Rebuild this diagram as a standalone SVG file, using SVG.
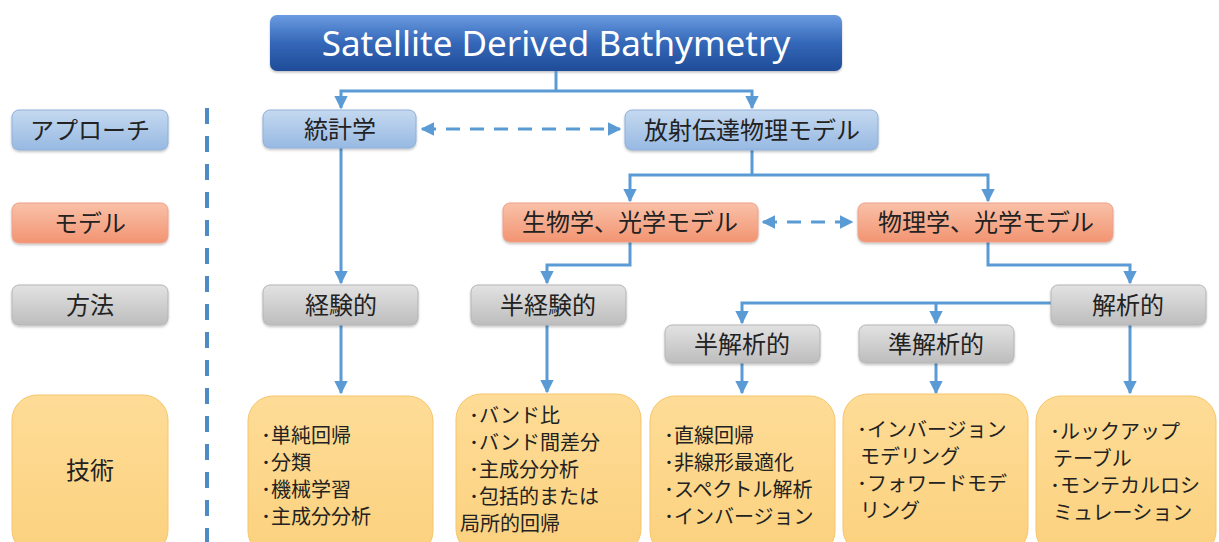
<svg xmlns="http://www.w3.org/2000/svg" width="1219" height="542" viewBox="0 0 1219 542">
<defs>
<linearGradient id="gTitle" x1="0" y1="0" x2="0" y2="1"><stop offset="0" stop-color="#6a9be0"/><stop offset="0.5" stop-color="#3467b8"/><stop offset="1" stop-color="#1f4c98"/></linearGradient>
<linearGradient id="gBlue" x1="0" y1="0" x2="0" y2="1"><stop offset="0" stop-color="#c5d9f0"/><stop offset="1" stop-color="#97b9e2"/></linearGradient>
<linearGradient id="gRed" x1="0" y1="0" x2="0" y2="1"><stop offset="0" stop-color="#f9c1a8"/><stop offset="1" stop-color="#f29472"/></linearGradient>
<linearGradient id="gGray" x1="0" y1="0" x2="0" y2="1"><stop offset="0" stop-color="#e2e2e2"/><stop offset="1" stop-color="#bdbdbd"/></linearGradient>
<linearGradient id="gYel" x1="0" y1="0" x2="0" y2="1"><stop offset="0" stop-color="#fedc97"/><stop offset="1" stop-color="#fbd17e"/></linearGradient>
<marker id="ah" viewBox="0 0 10 10" refX="9" refY="5" markerWidth="4.5" markerHeight="4.5" orient="auto-start-reverse" markerUnits="strokeWidth"><path d="M0,0 L10,5 L0,10 z" fill="#5b9bd5"/></marker>
<filter id="sh" x="-10%" y="-10%" width="120%" height="130%"><feDropShadow dx="0" dy="1.5" stdDeviation="1.2" flood-color="#000" flood-opacity="0.25"/></filter>
</defs>
<style>
.t{font-family:"Noto Sans CJK JP","Noto Sans",sans-serif;fill:#222;}
.lab{font-size:24px;text-anchor:middle;}
.tech{font-size:20px;}
.title{font-family:"Noto Sans","Open Sans",sans-serif;font-size:35px;fill:#fff;text-anchor:middle;}
.blue{fill:url(#gBlue);stroke:#8eb0da;stroke-width:1;filter:url(#sh);}
.red{fill:url(#gRed);stroke:#eea088;stroke-width:1;filter:url(#sh);}
.gray{fill:url(#gGray);stroke:#b5b5b5;stroke-width:1;filter:url(#sh);}
.yel{fill:url(#gYel);stroke:#f6c56a;stroke-width:1;}
.c{fill:none;stroke:#5b9bd5;stroke-width:3;}
.ca{fill:none;stroke:#5b9bd5;stroke-width:3;marker-end:url(#ah);}
.cd{fill:none;stroke:#5b9bd5;stroke-width:3;stroke-dasharray:14 10;marker-start:url(#ah);marker-end:url(#ah);}
</style>

<g id="title"><rect x="270" y="15" width="572" height="56" rx="7" fill="url(#gTitle)" filter="url(#sh)"/><text class="title" x="556" y="56">Satellite Derived Bathymetry</text></g>

<g id="legend-approach"><rect class="blue" x="12" y="110" width="156" height="40" rx="7"/><text class="t lab" x="90" y="139">アプローチ</text></g>
<g id="legend-model"><rect class="red" x="12" y="203" width="156" height="40" rx="7"/><text class="t lab" x="90" y="232">モデル</text></g>
<g id="legend-method"><rect class="gray" x="12" y="285" width="156" height="40" rx="7"/><text class="t lab" x="90" y="314">方法</text></g>
<g id="legend-tech"><rect class="yel" x="12" y="395" width="156" height="160" rx="25"/><text class="t lab" x="90" y="479">技術</text></g>

<g id="connectors">
<line x1="207" y1="108" x2="207" y2="542" stroke="#4f8ac4" stroke-width="4" stroke-dasharray="16 12"/>
<path class="c" d="M556,71 V91"/>
<path class="ca" d="M556,91 H341 V108"/>
<path class="ca" d="M556,91 H752 V108"/>
<path class="cd" d="M422,129 H620"/>
<path class="c" d="M752,150 V175"/>
<path class="ca" d="M752,175 H630 V201"/>
<path class="ca" d="M752,175 H988 V201"/>
<path class="cd" d="M763,222 H852"/>
<path class="ca" d="M341,147 V283"/>
<path class="ca" d="M630,242 V265 H547 V283"/>
<path class="ca" d="M988,242 V265 H1130 V283"/>
<path class="ca" d="M1051,303 H742 V323"/>
<path class="ca" d="M936,303 V323"/>
<path class="ca" d="M341,325 V393"/>
<path class="ca" d="M547,325 V392"/>
<path class="ca" d="M742,363 V393"/>
<path class="ca" d="M936,363 V393"/>
<path class="ca" d="M1130,325 V393"/>
</g>

<g id="n-stat"><rect class="blue" x="263" y="110" width="153" height="38" rx="7"/><text class="t lab" x="340" y="138">統計学</text></g>
<g id="n-rt"><rect class="blue" x="625" y="110" width="253" height="40" rx="7"/><text class="t lab" x="752" y="139">放射伝達物理モデル</text></g>
<g id="n-bio"><rect class="red" x="503" y="203" width="255" height="39" rx="7"/><text class="t lab" x="630" y="231">生物学、光学モデル</text></g>
<g id="n-phys"><rect class="red" x="858" y="203" width="255" height="39" rx="7"/><text class="t lab" x="986" y="231">物理学、光学モデル</text></g>
<g id="n-emp"><rect class="gray" x="263" y="285" width="155" height="40" rx="7"/><text class="t lab" x="341" y="314">経験的</text></g>
<g id="n-semiemp"><rect class="gray" x="471" y="285" width="155" height="40" rx="7"/><text class="t lab" x="548" y="314">半経験的</text></g>
<g id="n-anal"><rect class="gray" x="1051" y="285" width="155" height="40" rx="7"/><text class="t lab" x="1128" y="314">解析的</text></g>
<g id="n-semianal"><rect class="gray" x="665" y="325" width="155" height="38" rx="7"/><text class="t lab" x="742" y="353">半解析的</text></g>
<g id="n-quasi"><rect class="gray" x="859" y="325" width="155" height="38" rx="7"/><text class="t lab" x="936" y="353">準解析的</text></g>

<g id="t-emp"><rect class="yel" x="248" y="396" width="185" height="160" rx="25"/>
<text class="t tech"><tspan x="261" y="443">･単純回帰</tspan><tspan x="261" y="470">･分類</tspan><tspan x="261" y="497">･機械学習</tspan><tspan x="261" y="524">･主成分分析</tspan></text></g>
<g id="t-semiemp"><rect class="yel" x="456" y="394" width="185" height="160" rx="25"/>
<text class="t tech"><tspan x="469" y="423">･バンド比</tspan><tspan x="469" y="450">･バンド間差分</tspan><tspan x="469" y="477">･主成分分析</tspan><tspan x="469" y="504">･包括的または</tspan><tspan x="460" y="531">局所的回帰</tspan></text></g>
<g id="t-semianal"><rect class="yel" x="650" y="396" width="185" height="160" rx="25"/>
<text class="t tech"><tspan x="664" y="443">･直線回帰</tspan><tspan x="664" y="470">･非線形最適化</tspan><tspan x="664" y="497">･スペクトル解析</tspan><tspan x="664" y="524">･インバージョン</tspan></text></g>
<g id="t-quasi"><rect class="yel" x="843" y="394" width="185" height="160" rx="25"/>
<text class="t tech"><tspan x="857" y="437">･インバージョン</tspan><tspan x="860" y="464">モデリング</tspan><tspan x="857" y="491">･フォワードモデ</tspan><tspan x="860" y="518">リング</tspan></text></g>
<g id="t-anal"><rect class="yel" x="1036" y="396" width="180" height="160" rx="25"/>
<text class="t tech"><tspan x="1050" y="439">･ルックアップ</tspan><tspan x="1053" y="466">テーブル</tspan><tspan x="1050" y="493">･モンテカルロシ</tspan><tspan x="1053" y="520">ミュレーション</tspan></text></g>
</svg>
